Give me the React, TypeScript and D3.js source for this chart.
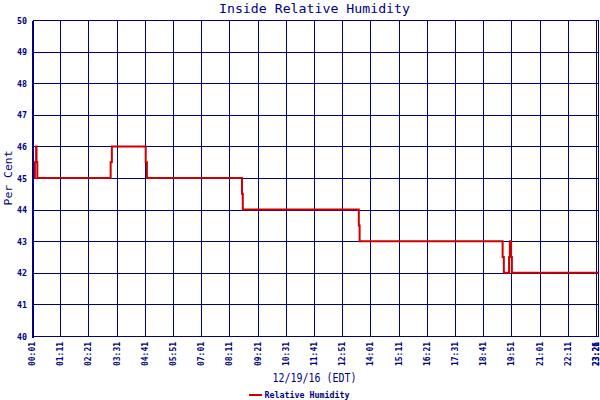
import React from "react";
import * as d3 from "d3";

const W = 600;
const H = 400;

const title = "Inside Relative Humidity";
const yTitle = "Per Cent";
const xTitle = "12/19/16 (EDT)";
const legendLabel = "Relative Humidity";

const times = [
  "00:01", "00:07", "00:10", "00:11", "00:13", "03:15", "03:18", "04:42", "04:45",
  "08:41", "08:43", "13:31", "13:33", "19:28", "19:31", "19:44", "19:46", "19:49",
  "19:51", "23:26",
];
const values = [
  45, 45.5, 46, 45.5, 45, 45.5, 46, 45.5, 45,
  44.5, 44, 43.5, 43, 42.5, 42, 42.5, 43, 42.5,
  42, 42,
];

const xTickLabels = [
  "00:01", "01:11", "02:21", "03:31", "04:41", "05:51", "07:01", "08:11", "09:21",
  "10:31", "11:41", "12:51", "14:01", "15:11", "16:21", "17:31", "18:41", "19:51",
  "21:01", "22:11", "23:21", "23:26",
];
const yTicks = [40, 41, 42, 43, 44, 45, 46, 47, 48, 49, 50];

const NAVY = "#000080";
const RED = "#cc0000";
const MONO = "'DejaVu Sans Mono', 'Liberation Mono', monospace";

const toMin = (s: string) => {
  const [h, m] = s.split(":").map(Number);
  return h * 60 + m;
};

export default function App() {
  const x = d3.scaleLinear().domain([1, 1406]).range([32.5, 598.5]);
  const y = d3.scaleLinear().domain([40, 50]).range([336.5, 20.5]);

  const pts: [number, number][] = times.map((t, i) => [toMin(t), values[i]]);
  const line = d3
    .line<[number, number]>()
    .x((d) => x(d[0]))
    .y((d) => y(d[1]) - 0.5)
    .curve(d3.curveStepAfter);

  const gridTicks = xTickLabels.slice(0, xTickLabels.length - 1);

  return (
    <svg
      width={W}
      height={H}
      style={{ position: "absolute", left: 0, top: 0, background: "#fff" }}
    >
      <rect x={0} y={0} width={W} height={H} fill="#fff" />
      <text
        x={314.5}
        y={13}
        textAnchor="middle"
        fontFamily={MONO}
        fontSize={13}
        fill={NAVY}
        textLength={191}
        lengthAdjust="spacingAndGlyphs"
      >
        {title}
      </text>

      <g shapeRendering="crispEdges">
        {yTicks.map((v) => (
          <line
            key={"h" + v}
            x1={x(1)}
            x2={x(1406)}
            y1={y(v)}
            y2={y(v)}
            stroke={NAVY}
            strokeWidth={1}
          />
        ))}
        {gridTicks.map((t) => (
          <line
            key={"v" + t}
            x1={x(toMin(t))}
            x2={x(toMin(t))}
            y1={y(50)}
            y2={y(40)}
            stroke={NAVY}
            strokeWidth={1}
          />
        ))}
        <line x1={x(1406)} x2={x(1406)} y1={y(50)} y2={y(40)} stroke={NAVY} strokeWidth={1} />
      </g>

      <path d={line(pts) || ""} fill="none" stroke={RED} strokeWidth={2} />

      <line x1={33} x2={33} y1={y(50)} y2={y(40) + 1} stroke={NAVY} strokeWidth={2} shapeRendering="crispEdges" />

      {yTicks.map((v) => (
        <text
          key={"yl" + v}
          x={27}
          y={y(v) + 3}
          textAnchor="end"
          fontFamily={MONO}
          fontWeight="bold"
          fontSize={8}
          fill={NAVY}
          textLength={10}
          lengthAdjust="spacingAndGlyphs"
        >
          {v}
        </text>
      ))}

      {xTickLabels.map((t) => {
        const px = Math.min(x(toMin(t)) + 2.5, 598.5);
        return (
          <text
            key={"xl" + t}
            transform={`translate(${px},342) rotate(-90)`}
            textAnchor="end"
            fontFamily={MONO}
            fontWeight="bold"
            fontSize={8}
            fill={NAVY}
            textLength={24}
            lengthAdjust="spacingAndGlyphs"
          >
            {t}
          </text>
        );
      })}

      <text
        transform={`translate(12,178) rotate(-90)`}
        textAnchor="middle"
        fontFamily={MONO}
        fontSize={11}
        fill={NAVY}
        textLength={55}
        lengthAdjust="spacingAndGlyphs"
      >
        {yTitle}
      </text>

      <text
        x={314.5}
        y={382}
        textAnchor="middle"
        fontFamily={MONO}
        fontSize={12}
        fill={NAVY}
        textLength={84}
        lengthAdjust="spacingAndGlyphs"
      >
        {xTitle}
      </text>

      <line x1={249} x2={262} y1={395} y2={395} stroke={RED} strokeWidth={2} />
      <text
        x={264.5}
        y={398}
        fontFamily={MONO}
        fontWeight="bold"
        fontSize={8}
        fill={NAVY}
        textLength={85}
        lengthAdjust="spacingAndGlyphs"
      >
        {legendLabel}
      </text>
    </svg>
  );
}
